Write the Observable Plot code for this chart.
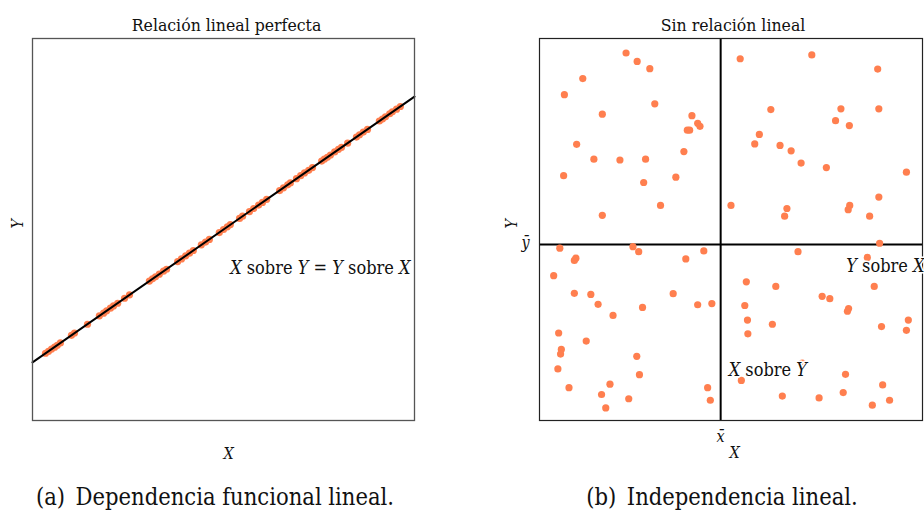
<!DOCTYPE html>
<html>
<head>
<meta charset="utf-8">
<script src="https://cdn.jsdelivr.net/npm/d3@7"></script>
<script src="https://cdn.jsdelivr.net/npm/@observablehq/plot@0.6"></script>
<style>
  html, body { margin: 0; padding: 0; background: #fff; }
  #wrap { position: relative; width: 924px; height: 515px; background: #fff; overflow: hidden; }
  #wrap svg { position: absolute; top: 0; overflow: visible; }
  .cap { position: absolute; top: 481px; line-height: 32px; font-family: "DejaVu Serif Condensed", "DejaVu Serif", serif; font-stretch: condensed; font-size: 23.5px; color: #111; white-space: nowrap; transform: translateX(-50%); }
</style>
</head>
<body>
<div id="wrap"></div>
<script>
// ---- Panel (a): perfect linear relation ----
const linX = [3.4, 4.2, 5.0, 5.8, 6.5, 7.3, 10.2, 11.0, 14.4, 17.5, 18.6, 19.4, 20.4, 21.2, 22.3, 24.1, 25.4,
  30.6, 31.4, 32.2, 33.2, 34.3, 35.1, 38.0, 39.0, 40.1, 41.1, 42.1, 44.2, 45.3, 46.3, 48.9, 50.0, 51.0, 51.8,
  54.2, 55.0, 56.8, 57.9, 59.2, 60.2, 61.3, 64.7, 65.7, 66.8, 67.5, 69.1, 70.2, 71.2, 72.3, 73.3, 75.7, 76.4,
  77.2, 78.0, 79.1, 80.1, 80.9, 82.5, 84.8, 85.6, 86.6, 87.7, 90.8, 91.6, 92.4, 93.5, 94.2, 95.3, 96.3];
const linY = [17.6, 18.1, 18.7, 19.2, 19.7, 20.3, 22.3, 22.9, 25.2, 27.4, 28.1, 28.7, 29.4, 30.0, 30.7, 32.0, 32.9,
  36.5, 37.1, 37.6, 38.3, 39.1, 39.6, 41.6, 42.3, 43.1, 43.8, 44.5, 46.0, 46.7, 47.4, 49.2, 50.0, 50.7, 51.3,
  52.9, 53.5, 54.7, 55.5, 56.4, 57.1, 57.9, 60.2, 60.9, 61.7, 62.2, 63.3, 64.1, 64.8, 65.5, 66.2, 67.9, 68.4,
  68.9, 69.5, 70.3, 71.0, 71.5, 72.6, 74.2, 74.8, 75.5, 76.2, 78.4, 78.9, 79.5, 80.3, 80.8, 81.5, 82.2];
const fitX = [0, 100];
const fitY = [15.2, 84.8];

// ---- Panel (b): no linear relation ----
const indX = [22.6, 25.5, 28.8, 11.3, 6.5, 30.1, 16.4, 39.8, 41.3, 41.9, 38.6, 39.2, 9.7, 37.7, 14.2, 21.0, 27.7,
  6.3, 35.6, 27.2, 31.6, 16.4,
  52.4, 71.1, 88.3, 60.4, 78.7, 88.6, 77.3, 80.9, 57.4, 56.2, 62.8, 65.7, 68.3, 74.9, 95.8, 50.0, 64.6, 64.0,
  81.0, 80.6, 88.6, 86.2, 88.8,
  5.3, 24.4, 25.9, 42.9, 9.5, 9.1, 38.2, 3.7, 9.1, 13.4, 34.9, 15.3, 26.9, 41.3, 45.0, 19.2, 5.0, 12.2, 5.7,
  5.5, 25.4, 4.8, 26.1, 18.4, 7.7, 43.9, 16.2, 23.3, 44.6, 17.3,
  67.5, 85.6, 54.0, 61.7, 87.4, 73.8, 75.8, 53.6, 80.7, 80.4, 54.3, 60.8, 96.3, 89.3, 95.8, 54.4, 68.6, 79.9,
  52.7, 89.6, 63.4, 73.0, 79.3, 86.9, 91.4];
const indY = [96.2, 94.0, 92.1, 89.5, 85.3, 82.9, 80.2, 79.8, 77.8, 77.0, 76.0, 76.0, 72.3, 70.4, 68.4, 68.2, 68.4,
  64.1, 63.7, 62.3, 56.3, 53.7,
  94.7, 95.7, 92.0, 81.4, 81.6, 81.6, 78.5, 77.2, 74.9, 72.4, 72.0, 70.6, 67.4, 66.2, 65.0, 56.3, 55.5, 53.5,
  56.3, 55.2, 58.5, 53.5, 46.4,
  45.1, 45.5, 44.2, 44.4, 42.5, 41.9, 42.3, 37.9, 33.3, 33.0, 33.2, 30.4, 29.6, 30.3, 30.6, 27.5, 22.9, 20.8, 18.6,
  17.4, 16.8, 13.5, 12.0, 9.5, 8.6, 8.6, 6.8, 5.7, 5.3, 3.3,
  44.2, 42.7, 36.3, 35.1, 35.1, 32.5, 31.9, 30.1, 29.3, 28.6, 26.3, 25.2, 26.3, 24.6, 23.6, 22.7, 15.0, 12.1,
  10.5, 9.3, 6.4, 5.9, 7.3, 4.0, 5.3];
const meanX = [47.3];
const meanY = [46.1];

const titles = ["Relación lineal perfecta", "Sin relación lineal"];
const captions = ["(a)\u2002Dependencia funcional lineal.", "(b)\u2002Independencia lineal."];
const labelA = "*X* sobre *Y* = *Y* sobre *X*";
const labelYX = "*Y* sobre *X*";
const labelXY = "*X* sobre *Y*";

const FONT = "'DejaVu Serif Condensed', 'DejaVu Serif', serif";
const DOT = "#ff7f4f";

function italicize(svg) {
  svg.querySelectorAll("text").forEach(t => {
    const s = t.textContent;
    if (!s.includes("*")) return;
    const parts = s.split("*");
    while (t.firstChild) t.removeChild(t.firstChild);
    parts.forEach((p, i) => {
      if (!p) return;
      const ts = document.createElementNS("http://www.w3.org/2000/svg", "tspan");
      ts.textContent = p;
      if (i % 2 === 1) ts.setAttribute("font-style", "italic");
      t.appendChild(ts);
    });
  });
}

const linData = linX.map((x, i) => ({x, y: linY[i]}));
const fitData = fitX.map((x, i) => ({x, y: fitY[i]}));
const indData = indX.map((x, i) => ({x, y: indY[i]}));

const common = {
  x: {domain: [0, 100], axis: null},
  y: {domain: [0, 100], axis: null},
  style: {fontFamily: FONT, fontStretch: "condensed", background: "transparent", overflow: "visible"}
};

const plotA = Plot.plot({
  ...common,
  width: 440, height: 470,
  marginLeft: 32, marginRight: 26, marginTop: 38, marginBottom: 50,
  marks: [
    Plot.dot(linData, {x: "x", y: "y", r: 3.6, fill: DOT}),
    Plot.line(fitData, {x: "x", y: "y", stroke: "#000", strokeWidth: 2}),
    Plot.frame({stroke: "#555", strokeWidth: 1.3}),
    Plot.text([titles[0]], {frameAnchor: "top", dx: 3, dy: -20, fontSize: 17.5, fill: "#111"}),
    Plot.text(["Y"], {frameAnchor: "left", dx: -15, dy: -1, rotate: -90, fontSize: 16, fontStyle: "italic", fill: "#111"}),
    Plot.text(["X"], {frameAnchor: "bottom", dx: 5, dy: 38, fontSize: 16, fontStyle: "italic", fill: "#111"}),
    Plot.text([labelA], {frameAnchor: "right", textAnchor: "end", dx: -4, dy: 39, fontSize: 18, fill: "#111"})
  ]
});
italicize(plotA);
plotA.style.left = "0px";

const plotB = Plot.plot({
  ...common,
  width: 424, height: 470,
  marginLeft: 39, marginRight: 2, marginTop: 38, marginBottom: 50,
  marks: [
    Plot.ruleX(meanX, {stroke: "#000", strokeWidth: 2}),
    Plot.ruleY(meanY, {stroke: "#000", strokeWidth: 2}),
    Plot.dot(indData, {x: "x", y: "y", r: 3.6, fill: DOT}),
    Plot.frame({stroke: "#222", strokeWidth: 1.2}),
    Plot.text([titles[1]], {frameAnchor: "top", dx: 2, dy: -20, fontSize: 17.5, fill: "#111"}),
    Plot.text(["Y"], {frameAnchor: "left", dx: -28, dy: -1, rotate: -90, fontSize: 16, fontStyle: "italic", fill: "#111"}),
    Plot.text(["ȳ"], {y: meanY, frameAnchor: "left", dx: -18, dy: -2, fontSize: 16, fontStyle: "italic", fill: "#111"}),
    Plot.text(["x\u0304"], {x: meanX, frameAnchor: "bottom", dy: 21, fontSize: 16, fontStyle: "italic", fill: "#111"}),
    Plot.text(["X"], {frameAnchor: "bottom", dx: 3.5, dy: 37, fontSize: 16, fontStyle: "italic", fill: "#111"}),
    Plot.text([labelYX], {frameAnchor: "right", textAnchor: "end", dx: 2, dy: 37, fontSize: 18, fill: "#111", stroke: "#fff", strokeWidth: 3}),
    Plot.text([labelXY], {x: meanX, frameAnchor: "bottom", textAnchor: "start", dx: 8, dy: -45, fontSize: 18, fill: "#111", stroke: "#fff", strokeWidth: 3})
  ]
});
italicize(plotB);
plotB.style.left = "500px";

const wrap = document.getElementById("wrap");
wrap.appendChild(plotA);
wrap.appendChild(plotB);

[[captions[0], 215], [captions[1], 722]].forEach(([txt, cx]) => {
  const d = document.createElement("div");
  d.className = "cap";
  d.textContent = txt;
  d.style.left = cx + "px";
  wrap.appendChild(d);
});
</script>
</body>
</html>
